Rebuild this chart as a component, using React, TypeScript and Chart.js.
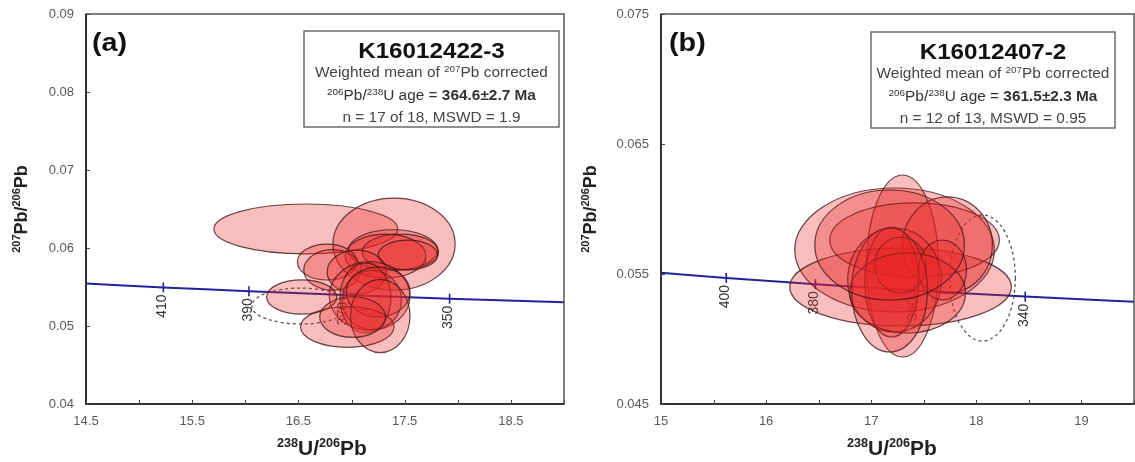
import React, { useEffect, useRef } from "react";
import { Chart, registerables } from "chart.js";

Chart.register(...registerables);

const FONT = "'Liberation Sans', Arial, Helvetica, sans-serif";
const H = 462;

// ---------- Concordia curve ----------
const CONC_AGES = [430, 420, 410, 400, 390, 380, 370, 360, 350, 340, 330, 320];
const CONC_X = [14.497, 14.854, 15.228, 15.621, 16.034, 16.469, 16.928, 17.411, 17.923, 18.465, 19.039, 19.649];
const CONC_Y = [0.05544, 0.05519, 0.05495, 0.0547, 0.05446, 0.05422, 0.05398, 0.05374, 0.0535, 0.05326, 0.05303, 0.0528];

// ---------- Panel (a) ----------
const A_X_TICKS = [14.5, 15, 15.5, 16, 16.5, 17, 17.5, 18, 18.5, 19];
const A_X_LABELS = ["14.5", "", "15.5", "", "16.5", "", "17.5", "", "18.5", ""];
const A_Y_TICKS = [0.04, 0.05, 0.06, 0.07, 0.08, 0.09];
const A_Y_LABELS = ["0.04", "0.05", "0.06", "0.07", "0.08", "0.09"];
const A_CONC_TICKS = [410, 390, 370, 350];
const A_CX = [16.57, 17.4, 17.39, 17.46, 17.32, 17.53, 16.77, 16.82, 17.05, 17.17, 17.19, 17.13, 17.25, 16.53, 16.96, 17.27, 17.01];
const A_CY = [0.06244, 0.0605, 0.05974, 0.05949, 0.05897, 0.0591, 0.0582, 0.05718, 0.05692, 0.05385, 0.05333, 0.0536, 0.05436, 0.05372, 0.04987, 0.05128, 0.05115];
const A_RX = [0.866, 0.575, 0.42, 0.36, 0.38, 0.28, 0.28, 0.27, 0.28, 0.38, 0.28, 0.24, 0.3, 0.33, 0.44, 0.28, 0.31];
const A_RY = [0.0032, 0.0059, 0.0026, 0.0023, 0.0028, 0.0019, 0.0023, 0.0026, 0.0028, 0.0044, 0.0038, 0.0045, 0.0032, 0.0022, 0.0026, 0.0047, 0.0026];
const A_DASH = [16.52, 0.05256, 0.46, 0.0023]; // cx, cy, rx, ry

// ---------- Panel (b) ----------
const B_X_TICKS = [15, 15.5, 16, 16.5, 17, 17.5, 18, 18.5, 19, 19.5];
const B_X_LABELS = ["15", "", "16", "", "17", "", "18", "", "19", ""];
const B_Y_TICKS = [0.045, 0.055, 0.065, 0.075];
const B_Y_LABELS = ["0.045", "0.055", "0.065", "0.075"];
const B_CONC_TICKS = [400, 380, 360, 340];
const B_CX = [17.222, 17.298, 17.279, 17.412, 17.726, 17.222, 17.194, 17.279, 17.678, 17.346, 17.175, 17.175];
const B_CY = [0.056846, 0.055615, 0.054, 0.057615, 0.05723, 0.054538, 0.054385, 0.055692, 0.055308, 0.053538, 0.053769, 0.05723];
const B_RX = [0.95, 0.342, 1.054, 0.807, 0.427, 0.446, 0.256, 0.247, 0.228, 0.551, 0.361, 0.712];
const B_RY = [0.00477, 0.007, 0.003, 0.00285, 0.0037, 0.004, 0.00423, 0.00215, 0.0023, 0.00308, 0.00477, 0.00423];
const B_DASH = [18.058, 0.054692, 0.313, 0.00485];

type Seg = { t: string; sup?: boolean; bold?: boolean };

function drawRich(ctx: CanvasRenderingContext2D, segs: Seg[], x: number, y: number, size: number, baseBold: boolean, color: string, sx = 1) {
  const fontOf = (s: Seg) => `${s.bold || baseBold ? "bold " : ""}${s.sup ? Math.round(size * 0.62) : size}px ${FONT}`;
  let total = 0;
  const widths = segs.map((s) => {
    ctx.font = fontOf(s);
    const w = ctx.measureText(s.t).width;
    total += w;
    return w;
  });
  ctx.save();
  ctx.translate(x, y);
  ctx.scale(sx, 1);
  ctx.fillStyle = color;
  ctx.textBaseline = "alphabetic";
  ctx.textAlign = "left";
  let cur = -total / 2;
  segs.forEach((s, i) => {
    ctx.font = fontOf(s);
    ctx.fillText(s.t, cur, s.sup ? -size * 0.38 : 0);
    cur += widths[i];
  });
  ctx.restore();
}

type Cfg = {
  w: number;
  left: number;
  area: { left: number; right: number; top: number; bottom: number };
  xMin: number; xMax: number; xTicks: number[]; xLabels: string[];
  yMin: number; yMax: number; yTicks: number[]; yLabels: string[];
  cx: number[]; cy: number[]; rx: number[]; ry: number[]; dash: number[];
  concTicks: number[];
  letter: string; letterX: number;
  box: { x0: number; y0: number; x1: number; y1: number };
  sample: string; age: string; nline: string;
  xTitleX: number; yTitleX: number;
};

const CFG_A: Cfg = {
  w: 568, left: 0,
  area: { left: 86, right: 564, top: 14, bottom: 404 },
  xMin: 14.5, xMax: 19, xTicks: A_X_TICKS, xLabels: A_X_LABELS,
  yMin: 0.04, yMax: 0.09, yTicks: A_Y_TICKS, yLabels: A_Y_LABELS,
  cx: A_CX, cy: A_CY, rx: A_RX, ry: A_RY, dash: A_DASH,
  concTicks: A_CONC_TICKS,
  letter: "(a)", letterX: 92,
  box: { x0: 304, y0: 31, x1: 559, y1: 127 },
  sample: "K16012422-3", age: "364.6±2.7 Ma", nline: "n = 17 of 18, MSWD = 1.9",
  xTitleX: 322, yTitleX: 21,
};

const CFG_B: Cfg = {
  w: 567, left: 568,
  area: { left: 93, right: 566, top: 14, bottom: 404 },
  xMin: 15, xMax: 19.5, xTicks: B_X_TICKS, xLabels: B_X_LABELS,
  yMin: 0.045, yMax: 0.075, yTicks: B_Y_TICKS, yLabels: B_Y_LABELS,
  cx: B_CX, cy: B_CY, rx: B_RX, ry: B_RY, dash: B_DASH,
  concTicks: B_CONC_TICKS,
  letter: "(b)", letterX: 101,
  box: { x0: 303, y0: 32, x1: 547, y1: 128 },
  sample: "K16012407-2", age: "361.5±2.3 Ma", nline: "n = 12 of 13, MSWD = 0.95",
  xTitleX: 324, yTitleX: 22,
};

function makeOverlay(cfg: Cfg) {
  return {
    id: "overlay",
    afterDatasetsDraw(chart: any) {
      const { ctx, chartArea: a, scales } = chart;
      const x = scales.x, y = scales.y;
      ctx.save();
      ctx.beginPath();
      ctx.rect(a.left, a.top, a.right - a.left, a.bottom - a.top);
      ctx.clip();
      // concordia age ticks + labels
      cfg.concTicks.forEach((age) => {
        const i = CONC_AGES.indexOf(age);
        const px = x.getPixelForValue(CONC_X[i]);
        const py = y.getPixelForValue(CONC_Y[i]);
        ctx.strokeStyle = "#22229a";
        ctx.lineWidth = 1.6;
        ctx.beginPath();
        ctx.moveTo(px, py - 5);
        ctx.lineTo(px, py + 5);
        ctx.stroke();
        ctx.save();
        ctx.translate(px - 1, py + 7);
        ctx.rotate(-Math.PI / 2);
        ctx.font = `14px ${FONT}`;
        ctx.fillStyle = "#333";
        ctx.textAlign = "right";
        ctx.textBaseline = "middle";
        ctx.fillText(String(age), 0, 0);
        ctx.restore();
      });
      // dashed (rejected) ellipse
      {
        const [dcx, dcy, drx, dry] = cfg.dash;
        const px = x.getPixelForValue(dcx), py = y.getPixelForValue(dcy);
        const rpx = Math.abs(x.getPixelForValue(dcx + drx) - px);
        const rpy = Math.abs(y.getPixelForValue(dcy + dry) - py);
        ctx.setLineDash([3, 3]);
        ctx.strokeStyle = "#555";
        ctx.lineWidth = 1.3;
        ctx.beginPath();
        ctx.ellipse(px, py, rpx, rpy, 0, 0, Math.PI * 2);
        ctx.stroke();
        ctx.setLineDash([]);
      }
      // error ellipses
      cfg.cx.forEach((c, i) => {
        const px = x.getPixelForValue(c), py = y.getPixelForValue(cfg.cy[i]);
        const rpx = Math.abs(x.getPixelForValue(c + cfg.rx[i]) - px);
        const rpy = Math.abs(y.getPixelForValue(cfg.cy[i] + cfg.ry[i]) - py);
        ctx.beginPath();
        ctx.ellipse(px, py, rpx, rpy, 0, 0, Math.PI * 2);
        ctx.fillStyle = "rgba(232, 36, 36, 0.3)";
        ctx.fill();
        ctx.strokeStyle = "rgba(70, 25, 25, 0.8)";
        ctx.lineWidth = 1.2;
        ctx.stroke();
      });
      ctx.restore();
    },
    afterDraw(chart: any) {
      const { ctx, chartArea: a, scales } = chart;
      const x = scales.x, y = scales.y;
      // frame
      ctx.save();
      ctx.strokeStyle = "#555";
      ctx.lineWidth = 1.5;
      ctx.strokeRect(a.left, a.top, a.right - a.left, a.bottom - a.top);
      ctx.strokeStyle = "#333";
      ctx.lineWidth = 2;
      ctx.beginPath();
      ctx.moveTo(a.left, a.top);
      ctx.lineTo(a.left, a.bottom);
      ctx.lineTo(a.right, a.bottom);
      ctx.stroke();
      // inward tick marks
      ctx.lineWidth = 1;
      ctx.strokeStyle = "#444";
      ctx.beginPath();
      cfg.xTicks.forEach((v) => {
        const px = Math.round(x.getPixelForValue(v)) + 0.5;
        ctx.moveTo(px, a.bottom);
        ctx.lineTo(px, a.bottom - 4);
      });
      cfg.yTicks.forEach((v) => {
        const py = Math.round(y.getPixelForValue(v)) + 0.5;
        ctx.moveTo(a.left, py);
        ctx.lineTo(a.left + 4, py);
      });
      ctx.stroke();
      // info box
      const b = cfg.box;
      ctx.fillStyle = "#fff";
      ctx.fillRect(b.x0, b.y0, b.x1 - b.x0, b.y1 - b.y0);
      ctx.strokeStyle = "#555";
      ctx.lineWidth = 1.3;
      ctx.strokeRect(b.x0, b.y0, b.x1 - b.x0, b.y1 - b.y0);
      const cxb = (b.x0 + b.x1) / 2;
      drawRich(ctx, [{ t: cfg.sample }], cxb, b.y0 + 27, 22, true, "#111", 1.1);
      drawRich(ctx, [{ t: "Weighted mean of " }, { t: "207", sup: true }, { t: "Pb corrected" }], cxb, b.y0 + 46, 14, false, "#444", 1.1);
      drawRich(ctx, [{ t: "206", sup: true }, { t: "Pb/" }, { t: "238", sup: true }, { t: "U age = " }, { t: cfg.age, bold: true }], cxb, b.y0 + 69, 14, false, "#333", 1.1);
      drawRich(ctx, [{ t: cfg.nline }], cxb, b.y0 + 91, 14, false, "#444", 1.1);
      // panel letter
      ctx.font = `bold 25px ${FONT}`;
      ctx.fillStyle = "#111";
      ctx.textAlign = "left";
      ctx.textBaseline = "alphabetic";
      ctx.save();
      ctx.translate(cfg.letterX, 51);
      ctx.scale(1.15, 1);
      ctx.fillText(cfg.letter, 0, 0);
      ctx.restore();
      // axis titles
      drawRich(ctx, [{ t: "238", sup: true }, { t: "U/" }, { t: "206", sup: true }, { t: "Pb" }], cfg.xTitleX, 455, 20, true, "#222", 1.05);
      ctx.save();
      ctx.translate(cfg.yTitleX + 6, (a.top + a.bottom) / 2);
      ctx.rotate(-Math.PI / 2);
      drawRich(ctx, [{ t: "207", sup: true }, { t: "Pb/" }, { t: "206", sup: true }, { t: "Pb" }], 0, 0, 18, true, "#222", 1);
      ctx.restore();
      ctx.restore();
    },
  };
}

function Panel({ cfg }: { cfg: Cfg }) {
  const ref = useRef<HTMLCanvasElement>(null);
  useEffect(() => {
    const tickFont = { family: FONT, size: 13 };
    const chart = new Chart(ref.current as HTMLCanvasElement, {
      type: "scatter",
      data: {
        datasets: [
          {
            label: "Concordia",
            data: CONC_X.map((v, i) => ({ x: v, y: CONC_Y[i] })),
            showLine: true,
            borderColor: "#22229a",
            borderWidth: 2,
            pointRadius: 0,
            fill: false,
          },
        ],
      },
      options: {
        animation: false,
        responsive: false,
        devicePixelRatio: 1,
        events: [],
        layout: {
          autoPadding: false,
          padding: { left: 0, top: cfg.area.top, right: cfg.w - cfg.area.right, bottom: 0 },
        },
        plugins: { legend: { display: false }, tooltip: { enabled: false }, title: { display: false } },
        scales: {
          x: {
            type: "linear",
            min: cfg.xMin,
            max: cfg.xMax,
            afterBuildTicks: (s: any) => { s.ticks = cfg.xTicks.map((v) => ({ value: v })); },
            afterFit: (s: any) => {
              s.height = H - cfg.area.bottom;
              s.paddingLeft = 0;
              s.paddingRight = 0;
            },
            grid: { display: false, drawTicks: false },
            border: { display: false },
            ticks: {
              autoSkip: false, maxRotation: 0, padding: 10, color: "#5a5a5a", font: tickFont,
              callback: (_v: any, i: number) => cfg.xLabels[i],
            },
          },
          y: {
            type: "linear",
            min: cfg.yMin,
            max: cfg.yMax,
            afterBuildTicks: (s: any) => { s.ticks = cfg.yTicks.map((v) => ({ value: v })); },
            afterFit: (s: any) => {
              s.width = cfg.area.left;
              s.paddingTop = 0;
              s.paddingBottom = 0;
            },
            grid: { display: false, drawTicks: false },
            border: { display: false },
            ticks: {
              autoSkip: false, padding: 12, color: "#5a5a5a", font: tickFont,
              callback: (_v: any, i: number) => cfg.yLabels[i],
            },
          },
        },
      },
      plugins: [makeOverlay(cfg)],
    } as any);
    return () => chart.destroy();
  }, []);
  return (
    <canvas
      ref={ref}
      width={cfg.w}
      height={H}
      style={{ position: "absolute", left: cfg.left, top: 0, width: cfg.w, height: H }}
    />
  );
}

export default function App() {
  return (
    <div style={{ position: "absolute", left: 0, top: 0, width: 1135, height: H, background: "#fff" }}>
      <Panel cfg={CFG_A} />
      <Panel cfg={CFG_B} />
    </div>
  );
}
